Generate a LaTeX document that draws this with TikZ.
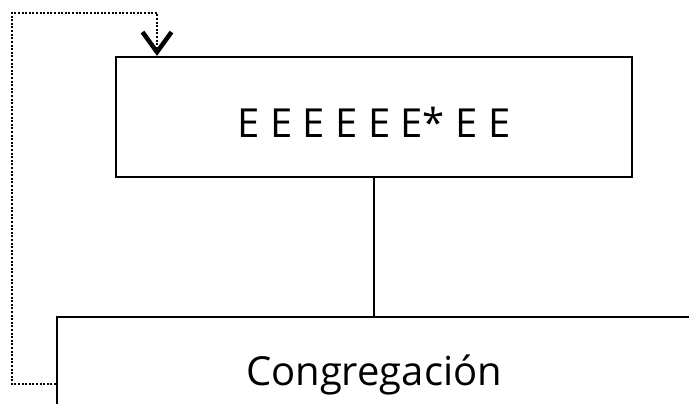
\documentclass[tikz,border=0pt]{standalone}
\usepackage{fontspec}
\setmainfont{Open Sans}
\usetikzlibrary{arrows.meta,positioning}
\tikzstyle{unit} = [rectangle, minimum width=516pt, minimum height=120pt, text height=42pt, text depth=0pt, text centered, draw=black, line width=2.2pt, font=\fontsize{40}{46}\selectfont]
\tikzstyle{base} = [rectangle, minimum width=634pt, minimum height=118pt, text height=30pt, text depth=12pt, text centered, draw=black, line width=2.2pt, font=\fontsize{40}{46}\selectfont]
\tikzstyle{link} = [line width=2pt]
\tikzstyle{loop} = [line width=2.4pt, dash pattern=on 2pt off 1.6pt, -{Straight Barb[length=20pt,width=29pt,line width=4.5pt]}]

\begin{document}
\begin{tikzpicture}[x=1pt, y=-1pt]

		\useasboundingbox (0,0) rectangle (689,404);
		\clip (0,0) rectangle (689,404);

		\node (unit) [unit] at (374,117) {E E E E E E* E E};
		\node (cong) [base, below=138pt of unit] {Congregación};

		\draw [link] (unit.south) -- (cong.north);
		\draw [loop] ([yshift=-8pt]cong.west) -| (12,13) -| ([xshift=-217pt]unit.north);

\end{tikzpicture}
\end{document}
